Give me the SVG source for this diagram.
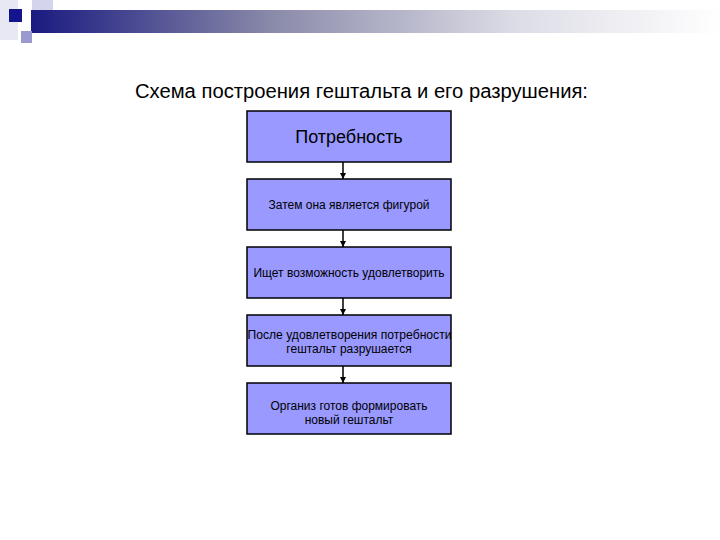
<svg xmlns="http://www.w3.org/2000/svg" width="720" height="540" viewBox="0 0 720 540">
<defs>
<linearGradient id="bar" x1="0" y1="0" x2="1" y2="0">
<stop offset="0" stop-color="#1a1a80"/>
<stop offset="0.35" stop-color="#8a8aaa"/>
<stop offset="0.7" stop-color="#dcdce6"/>
<stop offset="1" stop-color="#ffffff"/>
</linearGradient>
<marker id="ah" viewBox="0 0 10 10" refX="10" refY="5" markerWidth="4" markerHeight="4" orient="auto">
<path d="M0,0 L10,5 L0,10 z" fill="#000"/>
</marker>
<style>
.box{fill:#9999ff;stroke:#000;stroke-width:1.5}
.t{font-family:"Liberation Sans",Arial,sans-serif;fill:#000;text-anchor:middle}
.s{font-size:12px}
.c{stroke:#000;stroke-width:1.5;fill:none;marker-end:url(#ah)}
</style>
</defs>
<rect width="720" height="540" fill="#fff"/>
<g id="header">
<rect x="0" y="0" width="18" height="40" fill="#e8e8f4"/>
<rect x="32" y="0" width="21" height="22" fill="#d4d4ec"/>
<rect x="31" y="10" width="689" height="23" fill="url(#bar)"/>
<rect x="9" y="9" width="13" height="13" fill="#14148c"/>
<rect x="21" y="31" width="11" height="12" fill="#9a9ad0"/>
</g>
<text class="t" x="361.5" y="98" font-size="20" textLength="453" lengthAdjust="spacingAndGlyphs">Схема построения гештальта и его разрушения:</text>
<g id="connectors">
<line class="c" x1="343" y1="162" x2="343" y2="179"/>
<line class="c" x1="343" y1="230" x2="343" y2="247"/>
<line class="c" x1="343" y1="298" x2="343" y2="315"/>
<line class="c" x1="343" y1="366" x2="343" y2="383"/>
</g>
<g id="n1">
<rect class="box" x="247" y="111" width="204" height="51"/>
<text class="t" x="349" y="143" font-size="18">Потребность</text>
</g>
<g id="n2">
<rect class="box" x="247" y="179" width="204" height="51"/>
<text class="t s" x="349" y="209">Затем она является фигурой</text>
</g>
<g id="n3">
<rect class="box" x="247" y="247" width="204" height="51"/>
<text class="t s" x="349" y="277">Ищет возможность удовлетворить</text>
</g>
<g id="n4">
<rect class="box" x="247" y="315" width="204" height="51"/>
<text class="t s" x="349.5" y="339" textLength="204" lengthAdjust="spacingAndGlyphs">После удовлетворения потребности</text>
<text class="t s" x="349" y="353">гештальт разрушается</text>
</g>
<g id="n5">
<rect class="box" x="247" y="383" width="204" height="51"/>
<text class="t s" x="349" y="410">Организ готов формировать</text>
<text class="t s" x="349" y="424">новый гештальт</text>
</g>
</svg>
